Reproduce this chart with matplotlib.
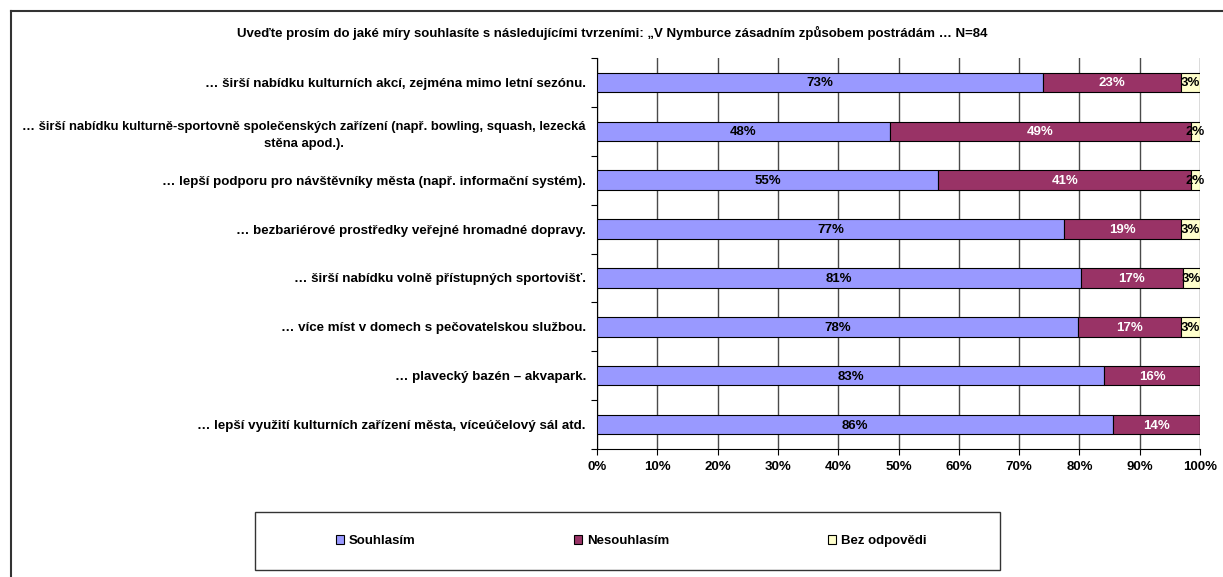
import matplotlib
matplotlib.use('Agg')
import matplotlib.pyplot as plt
from matplotlib.patches import Patch, Rectangle
from matplotlib.lines import Line2D
import numpy as np

plt.rcParams['font.family'] = ['Liberation Sans', 'DejaVu Sans']
plt.rcParams['font.weight'] = 'bold'

W, H = 1223, 577

# data (top -> bottom)
categories = [
    "… širší nabídku kulturních akcí, zejména mimo letní sezónu.",
    "… širší nabídku kulturně-sportovně společenských zařízení (např. bowling, squash, lezecká\nstěna apod.).",
    "… lepší podporu pro návštěvníky města (např. informační systém).",
    "… bezbariérové prostředky veřejné hromadné dopravy.",
    "… širší nabídku volně přístupných sportovišť.",
    "… více míst v domech s pečovatelskou službou.",
    "… plavecký bazén – akvapark.",
    "… lepší využití kulturních zařízení města, víceúčelový sál atd.",
]
souhlasim = [73.9, 48.6, 56.6, 77.5, 80.3, 79.8, 84.1, 85.5]
nesouhlasim = [23.0, 49.9, 41.9, 19.4, 16.8, 17.1, 15.9, 14.5]
bez_odpovedi = [3.1, 1.5, 1.5, 3.1, 2.9, 3.1, 0.0, 0.0]

lab_souhlasim = [73, 48, 55, 77, 81, 78, 83, 86]
lab_nesouhlasim = [23, 49, 41, 19, 17, 17, 16, 14]
lab_bez = [3, 2, 2, 3, 3, 3, None, None]

series_names = ['Souhlasím', 'Nesouhlasím', 'Bez odpovědi']
colors = ['#9999FF', '#993366', '#FFFFCC']
text_colors = ['black', 'white', 'black']

FS = 9.5

fig = plt.figure(figsize=(W / 100, H / 100), dpi=100)
ax = fig.add_axes([597 / W, 1 - 449 / H, 603 / W, 391 / H])

y = np.arange(len(categories))
left = np.zeros(len(categories))
for vals, labs, col, tcol in zip([souhlasim, nesouhlasim, bez_odpovedi],
                                 [lab_souhlasim, lab_nesouhlasim, lab_bez],
                                 colors, text_colors):
    v = np.array(vals) / 100
    ax.barh(y, v, left=left, height=0.4, color=col, edgecolor='black',
            linewidth=0.8, zorder=3)
    for yi, li, vi, lab in zip(y, left, v, labs):
        if lab is None or vi <= 0:
            continue
        ax.text(li + vi / 2, yi + 0.02, f'{lab}%', ha='center', va='center',
                fontsize=FS, fontweight='bold', color=tcol, zorder=4)
    left = left + v

ax.set_xlim(0, 1)
ax.set_ylim(len(categories) - 0.5, -0.5)
ax.set_xticks(np.arange(0, 1.01, 0.1))
ax.set_xticklabels([f'{int(round(t * 100))}%' for t in np.arange(0, 1.01, 0.1)],
                   fontsize=FS, fontweight='bold')
ax.set_yticks(y)
ax.set_yticklabels(categories, fontsize=9.6, fontweight='bold', multialignment='center')
long_lab = ax.get_yticklabels()[1]
long_lab.set_fontsize(9.35)
long_lab.set_linespacing(1.55)
ax.set_yticks(np.arange(-0.5, len(categories), 1), minor=True)
ax.tick_params(axis='y', which='major', length=0, pad=8)
ax.tick_params(axis='y', which='minor', length=4, direction='out', width=0.8)
ax.tick_params(axis='x', which='major', length=4, direction='out', width=0.8, pad=5)

ax.set_axisbelow(True)
ax.xaxis.grid(True, color='#4a4a4a', linewidth=1.0, zorder=0)
ax.spines['top'].set_visible(False)
ax.spines['right'].set_visible(False)
ax.spines['left'].set_linewidth(0.8)
ax.spines['bottom'].set_linewidth(0.8)

fig.text(612 / W, 1 - 33 / H,
         'Uveďte prosím do jaké míry souhlasíte s následujícími tvrzeními: „V Nymburce zásadním způsobem postrádám … N=84',
         ha='center', va='center', fontsize=FS, fontweight='bold')

# outer chart frame
fig.add_artist(Line2D([11 / W, 1], [1 - 11 / H, 1 - 11 / H], transform=fig.transFigure,
                      color='#333333', linewidth=1.5))
fig.add_artist(Line2D([11 / W, 11 / W], [0, 1 - 11 / H], transform=fig.transFigure,
                      color='#333333', linewidth=1.5))

# legend box
fig.add_artist(Rectangle((255 / W, 1 - 570 / H), (1000 - 255) / W, 58 / H,
                         transform=fig.transFigure, facecolor='white',
                         edgecolor='#333333', linewidth=1.0))
handles = [Patch(facecolor=c, edgecolor='black', linewidth=0.8) for c in colors]
leg = fig.legend(handles, series_names, loc='center', ncol=3,
                 bbox_to_anchor=(631 / W, 1 - 541 / H), frameon=False,
                 prop={'size': FS, 'weight': 'bold'}, handlelength=0.65,
                 handleheight=0.65, handletextpad=0.35, columnspacing=12.0)

fig.savefig('out.png', dpi=100)
